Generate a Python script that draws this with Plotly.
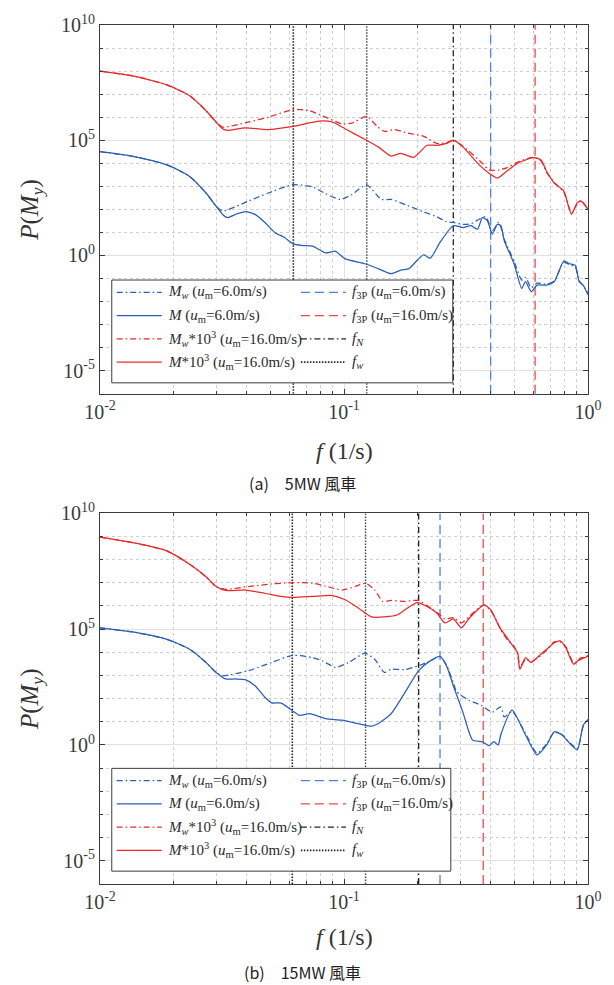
import numpy as np
import plotly.graph_objects as go

# ---------------------------------------------------------------------------
# Bending-moment spectra P(M_y), stored as log10 values over frequency (1/s)
# ---------------------------------------------------------------------------

# (a) 5MW turbine, u_m = 6.0 m/s, total moment M
a_M6_f = [0.0100, 0.0138, 0.0188, 0.0233, 0.0272, 0.0299, 0.0318, 0.0333, 0.0359, 0.0394,
          0.0432, 0.0474, 0.0520, 0.0570, 0.0618, 0.0678, 0.0744, 0.0841, 0.0923, 0.1012,
          0.1219, 0.1378, 0.1560, 0.1710, 0.1846, 0.1995, 0.2122, 0.2256, 0.2475, 0.2805,
          0.3070, 0.3318, 0.3527, 0.3690, 0.3870, 0.4053, 0.4250, 0.4393, 0.4539, 0.4977,
          0.5350, 0.5546, 0.5850, 0.6180, 0.6770, 0.7270, 0.7960, 0.8410, 0.8870, 0.9200,
          0.9550, 1.0000]
a_M6_lg = [4.50, 4.29, 3.93, 3.43, 2.71, 2.14, 1.78, 1.64, 1.78, 1.90,
           1.78, 1.43, 1.00, 0.78, 0.50, 0.43, 0.40, 0.11, 0.18, -0.15,
           -0.36, -0.57, -0.79, -0.64, -0.57, -0.21, 0.03, -0.12, 0.57, 1.29,
           1.21, 1.29, 1.14, 1.64, 1.50, 0.93, 1.35, 1.29, 0.64, -0.36,
           -1.43, -1.14, -1.57, -1.29, -1.29, -1.14, -0.24, -0.36, -0.43, -1.14,
           -1.29, -1.71]

# (a) 5MW turbine, u_m = 6.0 m/s, wind-induced moment M_w
a_Mw6_f = [0.0100, 0.0138, 0.0188, 0.0233, 0.0272, 0.0299, 0.0318, 0.0406, 0.0490, 0.0618,
           0.0744, 0.0841, 0.0966, 0.1077, 0.1237, 0.1423, 0.1560, 0.1820, 0.2122, 0.2400,
           0.2630, 0.2805, 0.3070, 0.3318, 0.3580, 0.3810, 0.4053, 0.4310, 0.4539, 0.4977,
           0.5350, 0.5546, 0.5850, 0.6180, 0.6770, 0.7270, 0.7960, 0.8410, 0.8870, 0.9200,
           0.9550, 1.0000]
a_Mw6_lg = [4.50, 4.29, 3.93, 3.43, 2.71, 2.14, 1.93, 2.36, 2.71, 3.07,
            2.97, 2.68, 2.43, 2.64, 3.07, 2.43, 2.43, 2.17, 1.89, 1.68,
            1.46, 1.43, 1.35, 1.38, 1.57, 1.68, 1.07, 1.43, 0.70, -0.25,
            -1.07, -0.95, -1.40, -1.20, -1.25, -1.10, -0.30, -0.40, -0.50, -1.10,
            -1.30, -1.65]

# (a) 5MW turbine, u_m = 16.0 m/s, M * 10^3
a_M16_f = [0.0100, 0.0138, 0.0188, 0.0233, 0.0272, 0.0299, 0.0318, 0.0333, 0.0394, 0.0490,
           0.0618, 0.0791, 0.0895, 0.1010, 0.1220, 0.1380, 0.1560, 0.1710, 0.1930, 0.2190,
           0.2400, 0.2630, 0.2805, 0.3070, 0.3580, 0.3930, 0.4250, 0.4640, 0.5150, 0.5960,
           0.6420, 0.6770, 0.7270, 0.7960, 0.8550, 0.9030, 0.9370, 1.0000]
a_M16_lg = [8.00, 7.78, 7.40, 6.93, 6.28, 5.79, 5.50, 5.43, 5.54, 5.46,
            5.60, 5.83, 5.79, 5.50, 5.03, 4.71, 4.31, 4.43, 4.26, 4.78,
            4.78, 4.86, 5.00, 4.71, 3.93, 3.57, 3.36, 3.65, 4.00, 4.24,
            4.14, 3.64, 3.14, 2.79, 1.78, 2.28, 2.36, 2.00]

# (a) 5MW turbine, u_m = 16.0 m/s, M_w * 10^3
a_Mw16_f = [0.0100, 0.0138, 0.0188, 0.0233, 0.0272, 0.0299, 0.0318, 0.0406, 0.0490, 0.0618,
            0.0721, 0.0841, 0.0982, 0.1077, 0.1237, 0.1378, 0.1465, 0.1607, 0.1820, 0.2122,
            0.2400, 0.2630, 0.2805, 0.3070, 0.3690, 0.3930, 0.4310, 0.4640, 0.5150, 0.5960,
            0.6420, 0.6770, 0.7270, 0.7960, 0.8550, 0.9030, 0.9370, 1.0000]
a_Mw16_lg = [8.00, 7.78, 7.40, 6.93, 6.28, 5.79, 5.57, 5.79, 6.00, 6.33,
             6.28, 6.00, 5.71, 5.74, 6.03, 5.57, 5.38, 5.46, 5.31, 5.17,
             4.86, 4.89, 5.00, 4.75, 4.00, 3.71, 3.71, 3.80, 4.05, 4.26,
             4.10, 3.60, 3.18, 2.75, 1.85, 2.25, 2.38, 2.00]

# (b) 15MW turbine, u_m = 6.0 m/s, M
b_M6_f = [0.0100, 0.0138, 0.0188, 0.0233, 0.0272, 0.0299, 0.0327, 0.0359, 0.0394, 0.0432,
          0.0474, 0.0505, 0.0553, 0.0618, 0.0658, 0.0721, 0.0841, 0.0982, 0.1144, 0.1296,
          0.1378, 0.1560, 0.1764, 0.2023, 0.2256, 0.2475, 0.2630, 0.2805, 0.3070, 0.3367,
          0.3690, 0.3930, 0.4115, 0.4285, 0.4393, 0.4883, 0.5546, 0.6180, 0.6770, 0.7270,
          0.7820, 0.8410, 0.9040, 0.9550, 0.9800, 1.0000]
b_M6_lg = [5.06, 4.87, 4.56, 4.13, 3.56, 3.13, 2.85, 2.85, 2.82, 2.56,
           2.06, 1.82, 1.81, 1.46, 1.28, 1.35, 1.14, 1.07, 0.92, 0.81,
           0.92, 1.35, 2.21, 3.21, 3.63, 3.82, 3.42, 2.56, 1.42, 0.21,
           0.14, -0.03, 0.14, 0.00, 0.45, 1.50, 0.43, -0.43, 0.00, 0.57,
           0.43, 0.07, -0.21, 0.85, 1.00, 1.10]

# (b) 15MW turbine, u_m = 6.0 m/s, M_w
b_Mw6_f = [0.0100, 0.0138, 0.0188, 0.0233, 0.0272, 0.0299, 0.0318, 0.0406, 0.0505, 0.0618,
           0.0744, 0.0816, 0.0923, 0.1043, 0.1219, 0.1336, 0.1465, 0.1560, 0.1764, 0.2023,
           0.2256, 0.2475, 0.2630, 0.2805, 0.2890, 0.3266, 0.3657, 0.4053, 0.4393, 0.4539,
           0.4883, 0.5546, 0.6180, 0.6770, 0.7270, 0.7820, 0.8410, 0.9040, 0.9550, 0.9800,
           1.0000]
b_Mw6_lg = [5.06, 4.87, 4.56, 4.13, 3.56, 3.13, 2.99, 3.21, 3.56, 3.87,
            3.77, 3.63, 3.35, 3.56, 3.96, 3.70, 3.13, 3.27, 3.25, 3.42,
            3.63, 3.82, 3.45, 2.70, 2.31, 1.92, 1.71, 1.42, 1.64, 1.21,
            1.45, 0.50, -0.35, 0.05, 0.55, 0.45, 0.10, -0.15, 0.80, 1.00,
            1.10]

# (b) 15MW turbine, u_m = 16.0 m/s, M * 10^3
b_M16_f = [0.0100, 0.0138, 0.0188, 0.0233, 0.0272, 0.0299, 0.0327, 0.0394, 0.0474, 0.0553,
           0.0618, 0.0744, 0.0895, 0.1012, 0.1144, 0.1296, 0.1465, 0.1660, 0.1820, 0.1995,
           0.2190, 0.2400, 0.2592, 0.2805, 0.3025, 0.3266, 0.3527, 0.3750, 0.3990, 0.4250,
           0.4393, 0.4710, 0.4977, 0.5150, 0.5255, 0.5546, 0.5850, 0.6300, 0.6770, 0.7270,
           0.7690, 0.8110, 0.8730, 0.9370, 0.9730, 1.0000]
b_M16_lg = [8.97, 8.72, 8.38, 7.80, 7.26, 6.84, 6.67, 6.69, 6.55, 6.41,
            6.37, 6.41, 6.45, 6.27, 5.91, 5.53, 5.53, 5.62, 5.91, 6.15,
            5.98, 5.70, 5.27, 5.44, 5.06, 5.48, 5.84, 6.05, 5.84, 5.27,
            5.00, 4.56, 4.20, 3.99, 3.27, 3.77, 3.56, 3.85, 4.13, 4.41,
            4.49, 4.20, 3.49, 3.77, 3.77, 3.85]

# (b) 15MW turbine, u_m = 16.0 m/s, M_w * 10^3
b_Mw16_f = [0.0100, 0.0138, 0.0188, 0.0233, 0.0272, 0.0299, 0.0327, 0.0406, 0.0505, 0.0618,
            0.0744, 0.0841, 0.0982, 0.1110, 0.1226, 0.1336, 0.1442, 0.1560, 0.1764, 0.2023,
            0.2190, 0.2475, 0.2592, 0.2805, 0.3025, 0.3266, 0.3527, 0.3750, 0.3990, 0.4250,
            0.4393, 0.4710, 0.4977, 0.5150, 0.5255, 0.5546, 0.5850, 0.6300, 0.6770, 0.7270,
            0.7690, 0.8110, 0.8730, 0.9370, 0.9730, 1.0000]
b_Mw16_lg = [8.97, 8.72, 8.38, 7.80, 7.26, 6.84, 6.72, 6.84, 6.95, 7.01,
             6.98, 6.86, 6.69, 6.84, 6.98, 6.69, 6.20, 6.24, 6.20, 6.24,
             6.02, 5.62, 5.44, 5.50, 5.27, 5.55, 5.88, 6.05, 5.80, 5.30,
             4.95, 4.50, 4.25, 3.90, 3.35, 3.70, 3.60, 3.80, 4.10, 4.45,
             4.45, 4.25, 3.55, 3.70, 3.80, 3.85]

# Characteristic frequencies (1/s): wave f_w and 2 f_w, tower f_N, rotor 3P
a_fw, a_2fw, a_fN, a_f3p6, a_f3p16 = 0.062, 0.124, 0.2805, 0.399, 0.607
b_fw, b_2fw, b_fN, b_f3p6, b_f3p16 = 0.0614, 0.1225, 0.2023, 0.2475, 0.372

x_tickvals = [0.01, 0.1, 1.0]
x_ticktext = ["10<sup>-2</sup>", "10<sup>-1</sup>", "10<sup>0</sup>"]
y_tickvals = [1e-5, 1e0, 1e5, 1e10]
y_ticktext = ["10<sup>-5</sup>", "10<sup>0</sup>", "10<sup>5</sup>", "10<sup>10</sup>"]

# ---------------------------------------------------------------------------
BLUE = "#2B5EB6"
RED = "#E8282B"
BLUE_V = "#4F82D0"
RED_V = "#E84A4D"
BLACK = "#222222"
SERIF = "Liberation Serif"
DASHDOT = "6px,3px,1.5px,3px"
DASHED = "9px,5px"
DOTTED = "1.5px,1.5px"

W, H = 614, 985
ML, MR, MT, MB = 100, 16, 15, 101
PH = H - MT - MB


def py(pix):
    """Convert a pixel row (from top of page) into paper y."""
    return (H - MB - pix) / PH


def px(pix):
    """Convert a pixel column into paper x."""
    return (pix - ML) / (W - ML - MR)


fig = go.Figure()


def curve(f, lg, color, dash, name, panel):
    xa, ya = ("x", "y") if panel == 0 else ("x2", "y2")
    fig.add_trace(go.Scatter(
        x=f, y=np.power(10.0, lg), mode="lines", name=name, showlegend=False,
        line=dict(color=color, width=1.25, dash=dash, shape="spline", smoothing=0.6),
        xaxis=xa, yaxis=ya, hoverinfo="skip"))


def vline(f, color, dash, name, panel, width=1.3):
    xa, ya = ("x", "y") if panel == 0 else ("x2", "y2")
    fig.add_trace(go.Scatter(
        x=[f, f], y=[1e-6, 1e10], mode="lines", name=name, showlegend=False,
        line=dict(color=color, width=width, dash=dash),
        xaxis=xa, yaxis=ya, hoverinfo="skip"))


um6 = " (<i>u</i><sub>m</sub>=6.0m/s)"
um16 = " (<i>u</i><sub>m</sub>=16.0m/s)"
names = {
    "Mw6": "<i>M</i><sub><i>w</i></sub>" + um6,
    "M6": "<i>M</i>" + um6,
    "Mw16": "<i>M</i><sub><i>w</i></sub>*10<sup>3</sup>" + um16,
    "M16": "<i>M</i>*10<sup>3</sup>" + um16,
    "f3p6": "<i>f</i><sub>3P</sub>" + um6,
    "f3p16": "<i>f</i><sub>3P</sub>" + um16,
    "fN": "<i>f<sub>N</sub></i>",
    "fw": "<i>f<sub>w</sub></i>",
}

panels = [
    (a_Mw6_f, a_Mw6_lg, a_M6_f, a_M6_lg, a_Mw16_f, a_Mw16_lg, a_M16_f, a_M16_lg,
     a_fw, a_2fw, a_fN, a_f3p6, a_f3p16),
    (b_Mw6_f, b_Mw6_lg, b_M6_f, b_M6_lg, b_Mw16_f, b_Mw16_lg, b_M16_f, b_M16_lg,
     b_fw, b_2fw, b_fN, b_f3p6, b_f3p16),
]

for p, (fw6, lw6, fm6, lm6, fw16, lw16, fm16, lm16, fw, f2w, fN, f3a, f3b) in enumerate(panels):
    vline(fw, BLACK, DOTTED, "f_w", p, width=1.6)
    vline(f2w, "#444444", DOTTED, "2f_w", p, width=1.4)
    vline(fN, BLACK, DASHDOT, "f_N", p)
    vline(f3a, BLUE_V, DASHED, "f_3P (6.0m/s)", p)
    vline(f3b, RED_V, DASHED, "f_3P (16.0m/s)", p)
    curve(fw6, lw6, BLUE, DASHDOT, "M_w (6.0m/s)", p)
    curve(fm6, lm6, BLUE, "solid", "M (6.0m/s)", p)
    curve(fw16, lw16, RED, DASHDOT, "M_w*10^3 (16.0m/s)", p)
    curve(fm16, lm16, RED, "solid", "M*10^3 (16.0m/s)", p)

# ---------------------------------------------------------------------------
# Legend boxes (two columns, four rows) drawn as shapes + text
legend_cols = [
    [(names["Mw6"], BLUE, DASHDOT), (names["M6"], BLUE, "solid"),
     (names["Mw16"], RED, DASHDOT), (names["M16"], RED, "solid")],
    [(names["f3p6"], BLUE_V, DASHED), (names["f3p16"], RED_V, DASHED),
     (names["fN"], BLACK, DASHDOT), (names["fw"], BLACK, DOTTED)],
]
col_line_x = [(117, 163), (305, 351)]
col_text_x = [167, 355]
row_offsets = [12.5, 36.0, 59.5, 83.0]

shapes = []
annotations = []
for box_top, box_right in [(273, 460), (767, 458)]:
    shapes.append(dict(type="rect", xref="paper", yref="paper", layer="above",
                       x0=px(112), x1=px(box_right), y0=py(box_top), y1=py(box_top + 104),
                       fillcolor="white", line=dict(color="#3C3C3C", width=1)))
    for c, entries in enumerate(legend_cols):
        for r, (label, color, dash) in enumerate(entries):
            yy = py(box_top + row_offsets[r])
            shapes.append(dict(type="line", xref="paper", yref="paper", layer="above",
                               x0=px(col_line_x[c][0]), x1=px(col_line_x[c][1]), y0=yy, y1=yy,
                               line=dict(color=color, width=1.6 if dash == DOTTED else 1.3,
                                         dash=dash)))
            annotations.append(dict(xref="paper", yref="paper", x=px(col_text_x[c]), y=yy,
                                    text=label, showarrow=False, xanchor="left",
                                    yanchor="middle",
                                    font=dict(family=SERIF, size=15, color="#2A2A2A")))

# ---------------------------------------------------------------------------
axis_line = dict(showline=True, linecolor="#3C3C3C", linewidth=1, mirror="allticks",
                 ticks="inside", ticklen=5, tickcolor="#3C3C3C", zeroline=False,
                 showgrid=True, gridcolor="#E2E2E2", gridwidth=1,
                 tickfont=dict(family=SERIF, size=20, color="#3A3A3A"))

x_minor = [k * 10.0 ** e for e in (-2, -1) for k in range(2, 10)]
y_minor = [10.0 ** e for e in range(-6, 11) if e % 5 != 0]

xcfg = dict(axis_line, type="log", range=[-2, 0], tickmode="array",
            tickvals=x_tickvals, ticktext=x_ticktext,
            minor=dict(tickmode="array", tickvals=x_minor, ticks="inside", ticklen=3,
                       tickcolor="#3C3C3C", showgrid=True, gridcolor="#CFCFCF",
                       griddash="dot", gridwidth=1))
ycfg = dict(axis_line, type="log", range=[-6, 10], tickmode="array",
            tickvals=y_tickvals, ticktext=y_ticktext,
            minor=dict(tickmode="array", tickvals=y_minor, ticks="inside", ticklen=3,
                       tickcolor="#3C3C3C", showgrid=True, gridcolor="#CFCFCF",
                       griddash="dot", gridwidth=1))

fig.update_layout(
    width=W, height=H,
    margin=dict(l=ML, r=MR, t=MT, b=MB),
    paper_bgcolor="white", plot_bgcolor="white",
    showlegend=False,
    xaxis=dict(xcfg, domain=[0, 1], anchor="y"),
    yaxis=dict(ycfg, domain=[py(388), 1.0], anchor="x"),
    xaxis2=dict(xcfg, domain=[0, 1], anchor="y2"),
    yaxis2=dict(ycfg, domain=[0.0, py(509)], anchor="x2"),
    shapes=shapes,
    annotations=annotations,
)

ytitle = "<i>P</i>(<i>M</i><sub><i>y</i></sub>)"
xtitle = "<i>f</i> (1/s)"
for yc, xt_y, cap_y, cap in [((15 + 388) / 2, 446, 478, "(a)\u30005MW 風車"),
                             ((509 + 884) / 2, 938, 973, "(b)\u300015MW 風車")]:
    fig.add_annotation(xref="paper", yref="paper", x=px(30), y=py(yc), text=ytitle,
                       textangle=-90, showarrow=False,
                       font=dict(family=SERIF, size=25, color="#333333"),
                       xanchor="center", yanchor="middle")
    fig.add_annotation(xref="paper", yref="paper", x=0.5, y=py(xt_y), text=xtitle,
                       showarrow=False, font=dict(family=SERIF, size=24, color="#333333"),
                       xanchor="center", yanchor="middle")
    fig.add_annotation(xref="paper", yref="paper", x=px(307), y=py(cap_y), text=cap,
                       showarrow=False,
                       font=dict(family="Noto Sans CJK JP", size=16, color="#222222"),
                       xanchor="center", yanchor="middle")

fig.write_html("out.html")
